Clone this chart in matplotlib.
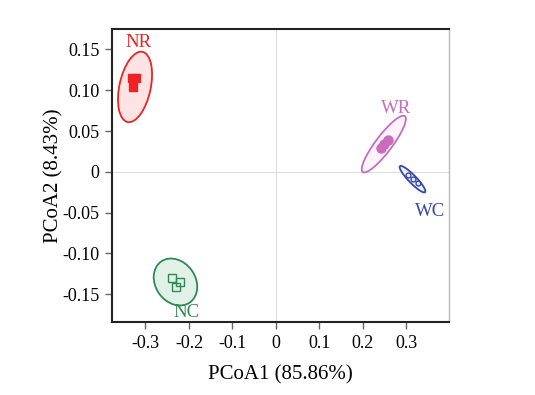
import matplotlib.pyplot as plt
import matplotlib
import matplotlib.transforms as mtransforms
from matplotlib.patches import Ellipse
import numpy as np

matplotlib.rcParams.update({
    'font.family': 'Liberation Serif',
    'font.size': 12.5,
})

# --- data ---
groups = ['NR', 'WR', 'WC', 'NC']
colors = ['#ee2222', '#c96cbe', '#3548a8', '#2e8a55']
fills = ['#fde3e3', '#fdf4fb', '#eef0fa', '#e2f1e8']
markers = ['s', 'o', 'o', 's']
filled = [True, True, False, False]

nr_x = [-0.331, -0.322, -0.329]
nr_y = [0.115, 0.115, 0.104]
wr_x = [0.257, 0.249, 0.241]
wr_y = [0.039, 0.034, 0.029]
wc_x = [0.303, 0.315, 0.326]
wc_y = [-0.004, -0.009, -0.014]
nc_x = [-0.239, -0.221, -0.230]
nc_y = [-0.130, -0.135, -0.141]
pts_x = [nr_x, wr_x, wc_x, nc_x]
pts_y = [nr_y, wr_y, wc_y, nc_y]

# confidence ellipses: centre, full axes (in x-units), angle on screen
ell_cx = [-0.324, 0.248, 0.314, -0.231]
ell_cy = [0.104, 0.034, -0.009, -0.135]
ell_w = [0.165, 0.161, 0.083, 0.115]
ell_h = [0.072, 0.038, 0.018, 0.092]
ell_ang = [78, 53, -46, -55]

label_x = [-0.317, 0.276, 0.354, -0.205]
label_y = [0.158, 0.078, -0.049, -0.172]

xticks = [-0.3, -0.2, -0.1, 0, 0.1, 0.2, 0.3]
xtick_labels = ['-0.3', '-0.2', '-0.1', '0', '0.1', '0.2', '0.3']
yticks = [0.15, 0.10, 0.05, 0, -0.05, -0.10, -0.15]
ytick_labels = ['0.15', '0.10', '0.05', '0', '-0.05', '-0.10', '-0.15']

fig = plt.figure(figsize=(5.35, 3.95), dpi=100)
ax = fig.add_axes([0.2093, 0.1848, 0.63, 0.7418])
ax.set_xlim(-0.377, 0.398)
ax.set_ylim(-0.184, 0.175)

ax.axhline(0, color='#dddddd', lw=0.8, zorder=0)
ax.axvline(0, color='#dddddd', lw=0.8, zorder=0)

# scale so ellipse angles are taken on screen
bbox = ax.get_window_extent()
k = ((ax.get_ylim()[1] - ax.get_ylim()[0]) / bbox.height) / \
    ((ax.get_xlim()[1] - ax.get_xlim()[0]) / bbox.width)
tr = mtransforms.Affine2D().scale(1, k) + ax.transData

for i, g in enumerate(groups):
    e = Ellipse((ell_cx[i], ell_cy[i] / k), ell_w[i], ell_h[i], angle=ell_ang[i],
                transform=tr, facecolor=fills[i], edgecolor=colors[i],
                lw=1.3, zorder=2)
    ax.add_patch(e)
    ax.plot(pts_x[i], pts_y[i], markers[i], linestyle='none',
            markersize=6.2 if markers[i] == 's' else 6.5 if filled[i] else 3.5,
            markerfacecolor=colors[i] if filled[i] else 'none',
            markeredgecolor=colors[i], markeredgewidth=1.0, zorder=3)
    ax.text(label_x[i], label_y[i], g, color=colors[i], ha='center',
            va='center', fontsize=13.5, zorder=4)

ax.set_xticks(xticks)
ax.set_xticklabels(xtick_labels)
ax.set_yticks(yticks)
ax.set_yticklabels(ytick_labels)
ax.tick_params(direction='out', length=5, width=1, color='#666666',
               labelsize=13, pad=4)

for s in ['left', 'bottom', 'top']:
    ax.spines[s].set_color('#222222')
    ax.spines[s].set_linewidth(1.5)
ax.spines['right'].set_color('#bbbbbb')
ax.spines['right'].set_linewidth(1.0)

ax.set_xlabel('PCoA1 (85.86%)', fontsize=15, labelpad=10)
ax.set_ylabel('PCoA2 (8.43%)', fontsize=15, labelpad=-1)

fig.savefig('out.png', dpi=100)
plt.close(fig)
